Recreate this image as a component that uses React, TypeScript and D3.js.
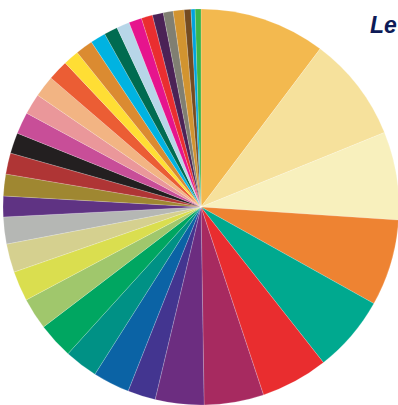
import React from "react";
import * as d3 from "d3";

const categories = [
  "A1","A2","A3","A4","A5","A6","A7","A8","A9","A10",
  "A11","A12","A13","A14","A15","A16","A17","A18","A19","A20",
  "A21","A22","A23","A24","A25","A26","A27","A28","A29","A30",
  "A31","A32","A33","A34","A35","A36","A37",
];

const values = [
  37, 30.9, 25.9, 25.4, 22.6, 19.8, 17.5, 14.3, 8.2, 10.8,
  9.8, 10.5, 9.3, 8.8, 8.4, 7.9, 6.1, 6.4, 6.2, 6.1,
  6.4, 6.1, 6.3, 6.0, 4.6, 5.1, 4.5, 4.0, 3.8, 3.8,
  3.3, 3.2, 2.9, 3.2, 2.0, 1.2, 1.7,
];

const colors = [
  "#F3B94F","#F6E19C","#F8F0BD","#EE8332","#00A98F","#E92D2F","#A72A60","#6C2D80","#433590","#0B63A5",
  "#009185","#00A661","#A0C76C","#DADE4F","#D5D08F","#B5B7B4","#5F3383","#9F8731","#AF3535","#231F20",
  "#C84E98","#EA979A","#F2B483","#EB5D34","#FFDE34","#DB8B31","#00B3E1","#006B50","#B7D6E8","#E6148D",
  "#EA2E30","#4B2256","#807F72","#D29430","#744B21","#00A3DD","#3AB54A",
];

const titleText = "Le";

export default function App() {
  const width = 398;
  const height = 405;
  const cx = 201;
  const cy = 207;
  const radius = 198;

  const data = categories.map((c, i) => ({ name: c, value: values[i], color: colors[i] }));
  const pie = d3.pie<any>().value((d: any) => d.value).sort(null);
  const arc = d3.arc<any>().innerRadius(0).outerRadius(radius);
  const arcs = pie(data);

  return (
    <svg
      width={width}
      height={height}
      style={{ position: "absolute", left: 0, top: 0, background: "#ffffff" }}
    >
      <g transform={`translate(${cx},${cy})`}>
        {arcs.map((a: any, i: number) => (
          <path
            key={i}
            d={arc(a) as string}
            fill={a.data.color}
            stroke="#ffffff"
            strokeWidth={0.3}
            strokeOpacity={0.6}
          />
        ))}
      </g>
      <text
        x={370}
        y={33}
        fontFamily="'Liberation Sans', Arial, sans-serif"
        fontWeight="bold"
        fontStyle="italic"
        fontSize={23}
        fill="#0D1B57"
      >
        {titleText}
      </text>
    </svg>
  );
}
